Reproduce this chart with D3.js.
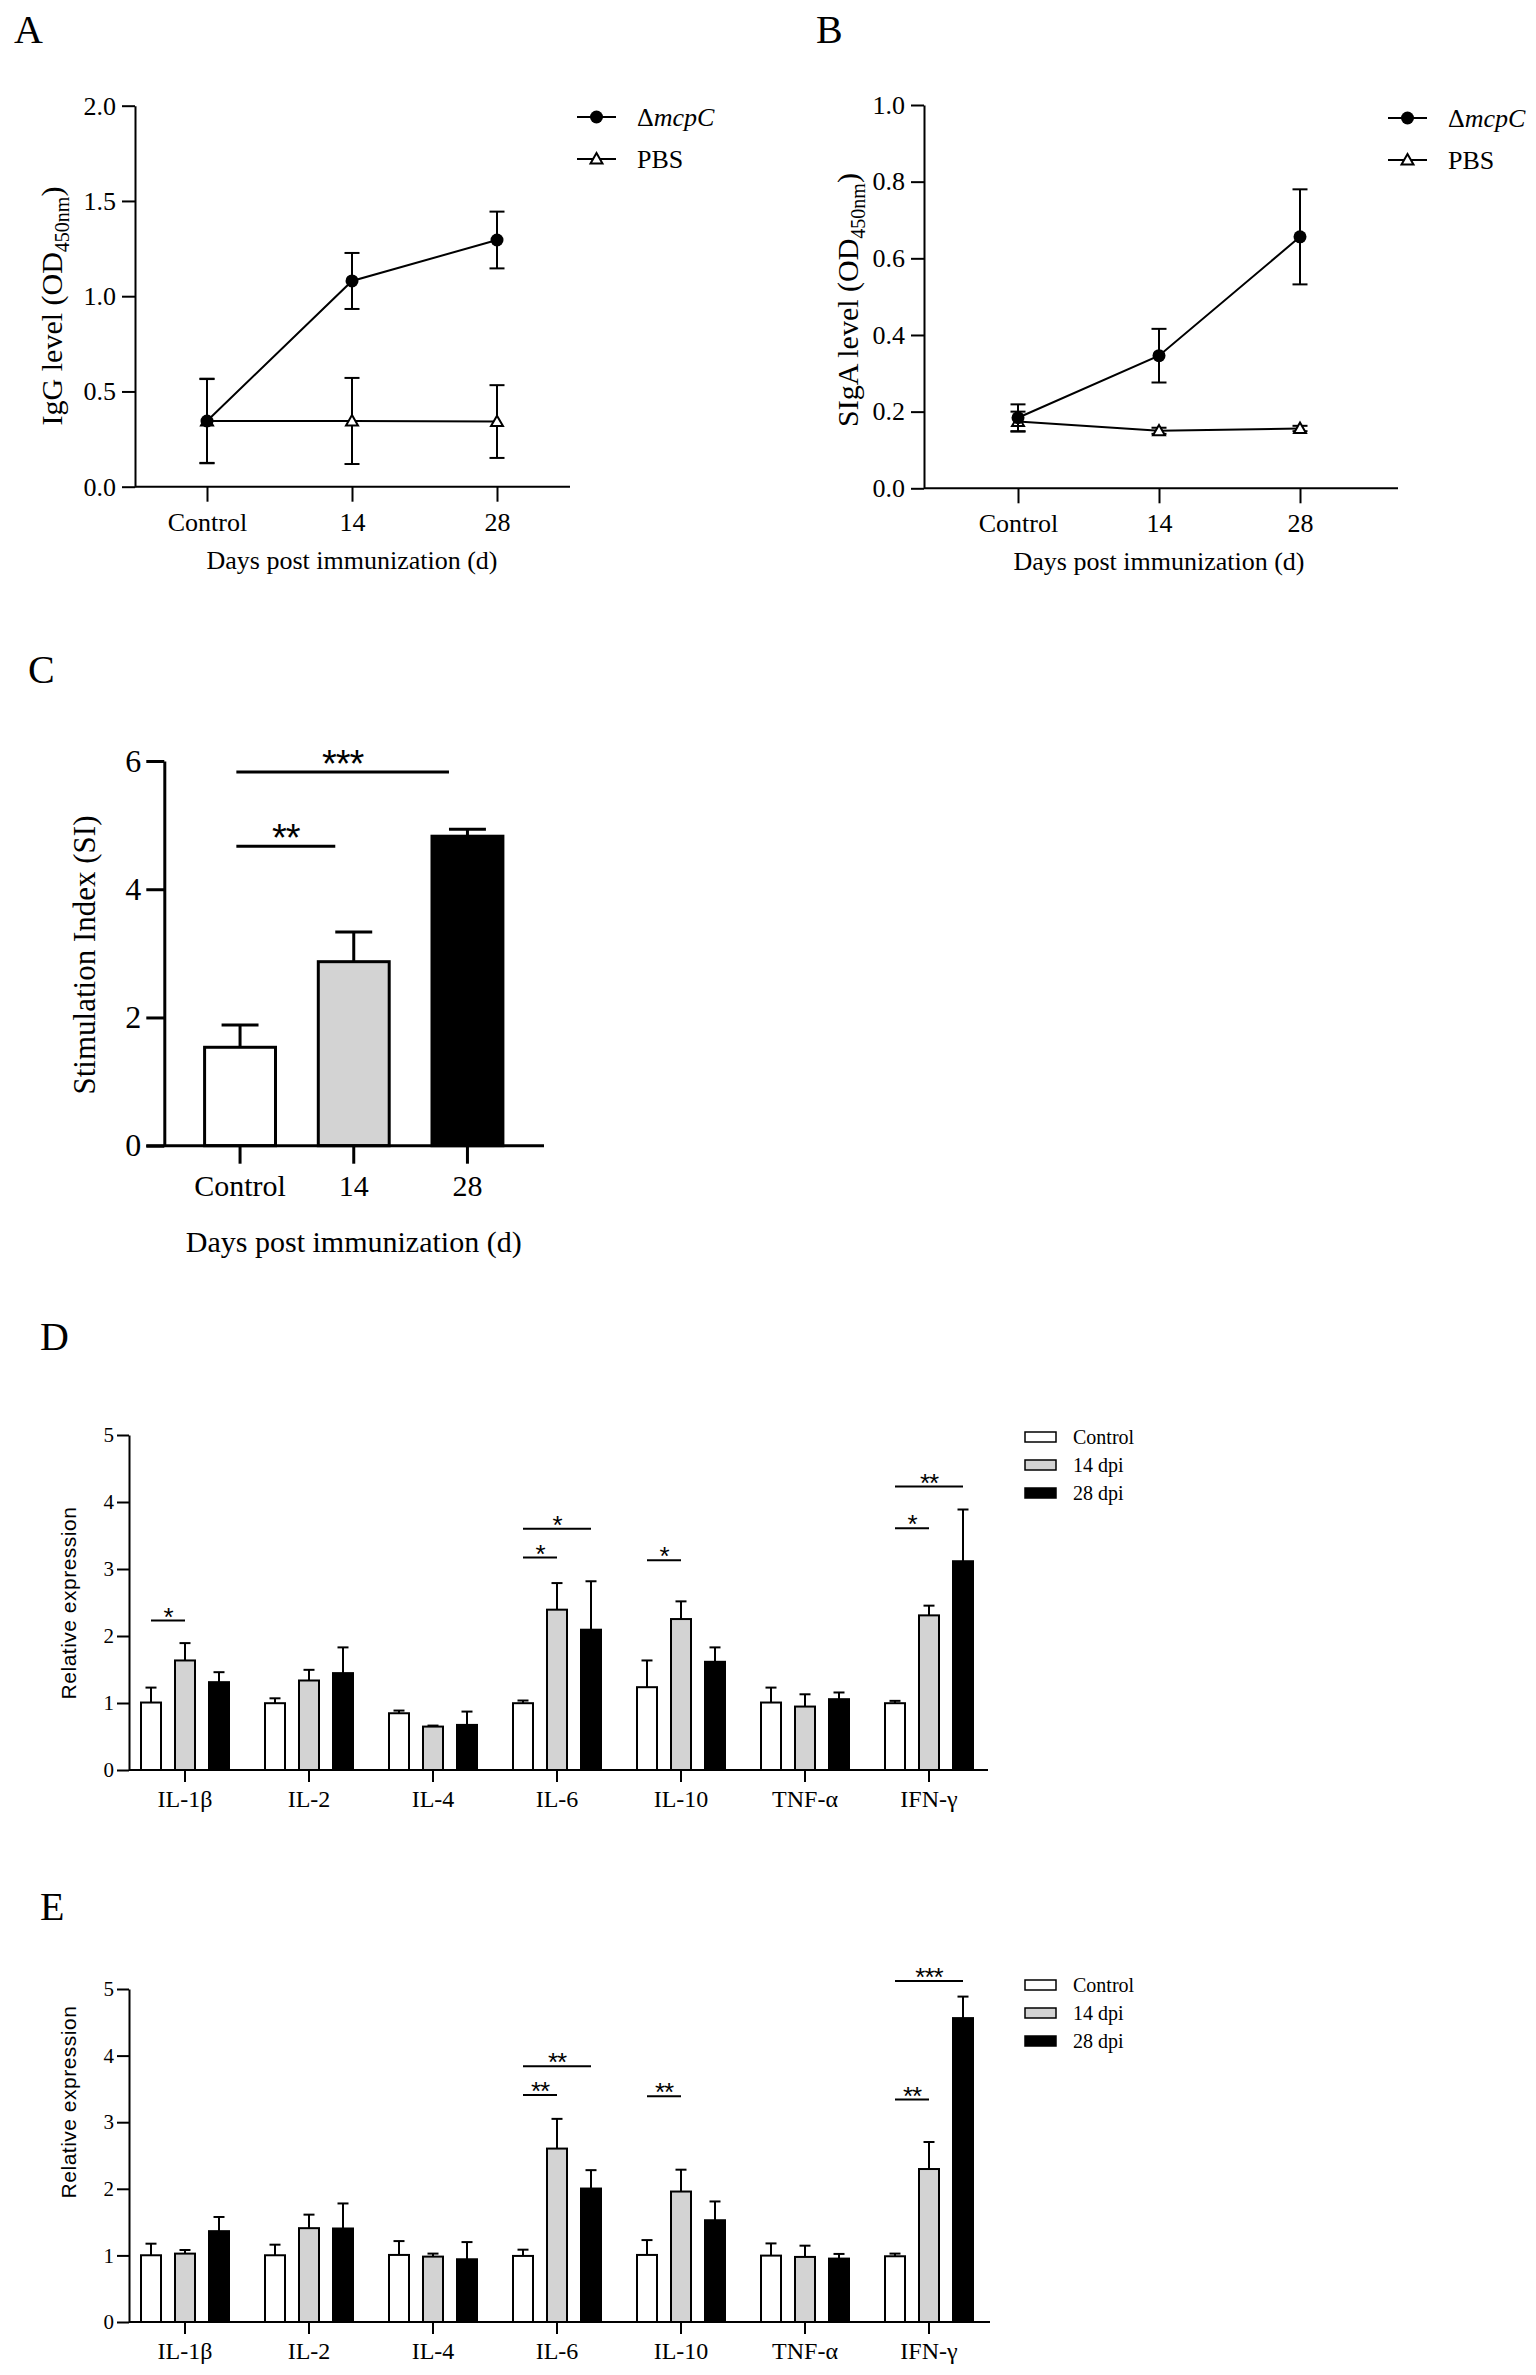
<!DOCTYPE html>
<html>
<head>
<meta charset="utf-8">
<script src="https://cdn.jsdelivr.net/npm/d3@7"></script>
<style>
  body { margin: 0; background: #fff; }
</style>
</head>
<body>
<svg id="fig" width="1536" height="2375"></svg>
<script>
// ---- data: panels A and B (ELISA) ----
const timePoints = ["Control", "14", "28"];

const iggMcpC = [0.345, 1.080, 1.295];
const iggMcpCErr = [0.222, 0.147, 0.149];
const iggPBS = [0.345, 0.345, 0.342];
const iggPBSErr = [0.220, 0.226, 0.191];

const sigaMcpC = [0.184, 0.346, 0.656];
const sigaMcpCErr = [0.035, 0.070, 0.124];
const sigaPBS = [0.174, 0.150, 0.156];
const sigaPBSErr = [0.026, 0.008, 0.007];

const iggTicks = [0, 0.5, 1.0, 1.5, 2.0];
const sigaTicks = [0, 0.2, 0.4, 0.6, 0.8, 1.0];

// ---- data: panel C (stimulation index) ----
const siValues = [1.535, 2.870, 4.827];
const siErr = [0.348, 0.464, 0.109];
const siTicks = [0, 2, 4, 6];
const siSig = [
  { from: "Control", to: "14", level: 4.67, label: "**" },
  { from: "Control", to: "28", level: 5.83, label: "***" }
];

// ---- data: panels D and E (cytokines) ----
const cytokines = ["IL-1β", "IL-2", "IL-4", "IL-6", "IL-10", "TNF-α", "IFN-γ"];
const dpiGroups = ["Control", "14 dpi", "28 dpi"];
const exprTicks = [0, 1, 2, 3, 4, 5];

const dControl = [1.007, 0.997, 0.847, 0.997, 1.236, 1.007, 0.997];
const d14 = [1.635, 1.336, 0.648, 2.393, 2.253, 0.947, 2.308];
const d28 = [1.311, 1.446, 0.673, 2.094, 1.615, 1.057, 3.116];
const dControlErr = [0.223, 0.073, 0.040, 0.040, 0.399, 0.223, 0.035];
const d14Err = [0.259, 0.159, 0.015, 0.397, 0.264, 0.183, 0.145];
const d28Err = [0.149, 0.384, 0.199, 0.723, 0.215, 0.100, 0.772];
const dSig = [
  { cyt: "IL-1β", from: "Control", to: "14 dpi", level: 2.23, label: "*" },
  { cyt: "IL-6", from: "Control", to: "14 dpi", level: 3.17, label: "*" },
  { cyt: "IL-6", from: "Control", to: "28 dpi", level: 3.60, label: "*" },
  { cyt: "IL-10", from: "Control", to: "14 dpi", level: 3.13, label: "*" },
  { cyt: "IFN-γ", from: "Control", to: "14 dpi", level: 3.61, label: "*" },
  { cyt: "IFN-γ", from: "Control", to: "28 dpi", level: 4.23, label: "**" }
];

const eControl = [1.002, 1.002, 1.007, 0.992, 1.007, 0.997, 0.987];
const e14 = [1.027, 1.409, 0.982, 2.604, 1.959, 0.977, 2.297];
const e28 = [1.364, 1.404, 0.942, 2.004, 1.528, 0.952, 4.563];
const eControlErr = [0.174, 0.159, 0.208, 0.094, 0.223, 0.183, 0.040];
const e14Err = [0.054, 0.203, 0.045, 0.446, 0.328, 0.169, 0.406];
const e28Err = [0.213, 0.376, 0.258, 0.276, 0.282, 0.070, 0.323];
const eSig = [
  { cyt: "IL-6", from: "Control", to: "14 dpi", level: 3.41, label: "**" },
  { cyt: "IL-6", from: "Control", to: "28 dpi", level: 3.84, label: "**" },
  { cyt: "IL-10", from: "Control", to: "14 dpi", level: 3.39, label: "**" },
  { cyt: "IFN-γ", from: "Control", to: "14 dpi", level: 3.34, label: "**" },
  { cyt: "IFN-γ", from: "Control", to: "28 dpi", level: 5.12, label: "***" }
];

const barFill = { "Control": "#ffffff", "14 dpi": "#d3d3d3", "28 dpi": "#000000" };
const siFill = ["#ffffff", "#d3d3d3", "#000000"];

const serif = "'Liberation Serif', 'Times New Roman', serif";
const sans = "'Liberation Sans', Arial, sans-serif";

const svg = d3.select("#fig");

// common axis styling
function styleAxis(sel, sw, fontSize, family) {
  sel.attr("font-size", null).attr("font-family", null);
  sel.selectAll("path, line").attr("stroke", "#000").attr("stroke-width", sw);
  sel.selectAll("text")
    .attr("font-family", family)
    .attr("font-size", fontSize)
    .attr("fill", "#000");
}

function panelLabel(txt, x, y) {
  svg.append("text")
    .attr("x", x).attr("y", y)
    .attr("font-family", serif)
    .attr("font-size", 40)
    .text(txt);
}

// ---- line chart (A, B) ----
function drawLinePanel(p) {
  const g = svg.append("g");
  const x = d3.scalePoint().domain(timePoints).range(p.xRange);
  const y = d3.scaleLinear().domain([0, p.yMax]).range([p.bottom, p.top]);

  const ya = g.append("g")
    .attr("transform", `translate(${p.left},0)`)
    .call(d3.axisLeft(y).tickValues(p.ticks).tickFormat(d3.format(".1f"))
      .tickSize(13).tickSizeOuter(0).tickPadding(6));
  styleAxis(ya, 2, 26, serif);

  const xa = g.append("g")
    .attr("transform", `translate(0,${p.bottom})`)
    .call(d3.axisBottom(x).tickSize(15).tickSizeOuter(0));
  xa.select(".domain").remove();
  styleAxis(xa, 2, 26, serif);
  xa.selectAll("text").attr("dy", null).attr("y", 44);

  g.append("line")
    .attr("x1", p.left).attr("x2", p.right)
    .attr("y1", p.bottom).attr("y2", p.bottom)
    .attr("stroke", "#000").attr("stroke-width", 2);

  // x title
  g.append("text")
    .attr("x", x("14")).attr("y", p.bottom + 82)
    .attr("text-anchor", "middle")
    .attr("font-family", serif).attr("font-size", 26)
    .text("Days post immunization (d)");

  // y title with subscript
  const t = g.append("text")
    .attr("transform", `translate(${p.titleX},${p.titleY}) rotate(-90)`)
    .attr("text-anchor", "middle")
    .attr("font-family", serif).attr("font-size", 30)
    .attr("dy", "0.33em");
  t.append("tspan").text(p.titleText + " (OD");
  t.append("tspan").attr("font-size", 20).attr("dy", 7).text("450nm");
  t.append("tspan").attr("dy", -7).text(")");

  const line = d3.line().x((d, i) => x(timePoints[i])).y(d => y(d));

  // series: PBS first, mutant on top
  p.series.forEach(s => {
    const pts = s.values.map((v, i) => ({ t: timePoints[i], v, e: s.err[i] }));
    pts.forEach(d => {
      const cx = x(d.t);
      g.append("line").attr("x1", cx).attr("x2", cx)
        .attr("y1", y(d.v - d.e)).attr("y2", y(d.v + d.e))
        .attr("stroke", "#000").attr("stroke-width", 2);
      [d.v - d.e, d.v + d.e].forEach(val => {
        g.append("line").attr("x1", cx - 7.5).attr("x2", cx + 7.5)
          .attr("y1", y(val)).attr("y2", y(val))
          .attr("stroke", "#000").attr("stroke-width", 2);
      });
    });
    g.append("path").datum(s.values).attr("d", line)
      .attr("fill", "none").attr("stroke", "#000").attr("stroke-width", 2);
    pts.forEach(d => drawMarker(g, s.marker, x(d.t), y(d.v)));
  });

  // legend
  p.legend.forEach((s, i) => {
    const ly = p.legendY + i * 42;
    g.append("line").attr("x1", p.legendX).attr("x2", p.legendX + 39)
      .attr("y1", ly).attr("y2", ly)
      .attr("stroke", "#000").attr("stroke-width", 2);
    drawMarker(g, s.marker, p.legendX + 19.5, ly);
    const lt = g.append("text").attr("x", p.legendX + 60).attr("y", ly + 9)
      .attr("font-family", serif).attr("font-size", 26);
    if (s.marker === "circle") {
      lt.append("tspan").text("Δ");
      lt.append("tspan").attr("font-style", "italic").text("mcpC");
    } else {
      lt.text(s.name);
    }
  });
}

function drawMarker(g, type, cx, cy) {
  if (type === "circle") {
    g.append("circle").attr("cx", cx).attr("cy", cy).attr("r", 6.5).attr("fill", "#000");
  } else {
    g.append("path")
      .attr("d", d3.symbol(d3.symbolTriangle, 62)())
      .attr("transform", `translate(${cx},${cy + 1})`)
      .attr("fill", "#fff").attr("stroke", "#000").attr("stroke-width", 2);
  }
}

panelLabel("A", 14, 43);
drawLinePanel({
  left: 135, right: 570, top: 105.7, bottom: 486.7, xRange: [207, 497],
  yMax: 2, ticks: iggTicks,
  titleX: 52, titleY: 306, titleText: "IgG level",
  series: [
    { values: iggPBS, err: iggPBSErr, marker: "triangle" },
    { values: iggMcpC, err: iggMcpCErr, marker: "circle" }
  ],
  legend: [{ name: "ΔmcpC", marker: "circle" }, { name: "PBS", marker: "triangle" }],
  legendX: 577, legendY: 117
});

panelLabel("B", 816, 43);
drawLinePanel({
  left: 924, right: 1398, top: 105, bottom: 488.3, xRange: [1018, 1300],
  yMax: 1, ticks: sigaTicks,
  titleX: 848, titleY: 300, titleText: "SIgA level",
  series: [
    { values: sigaPBS, err: sigaPBSErr, marker: "triangle" },
    { values: sigaMcpC, err: sigaMcpCErr, marker: "circle" }
  ],
  legend: [{ name: "ΔmcpC", marker: "circle" }, { name: "PBS", marker: "triangle" }],
  legendX: 1388, legendY: 118
});

// ---- panel C ----
(function drawC() {
  panelLabel("C", 28, 683);
  const left = 164.3, right = 544, top = 761, bottom = 1145.7;
  const g = svg.append("g");
  const x = d3.scaleBand().domain(timePoints).range([183.2, 524.3])
    .paddingInner(0.35).paddingOuter(0.175);
  const y = d3.scaleLinear().domain([0, 6]).range([bottom, top]);
  const bw = x.bandwidth();

  const rows = timePoints.map((t, i) => ({ t, v: siValues[i], e: siErr[i], fill: siFill[i] }));

  // error bars (upper only)
  rows.forEach(d => {
    const cx = x(d.t) + bw / 2;
    g.append("line").attr("x1", cx).attr("x2", cx)
      .attr("y1", y(d.v)).attr("y2", y(d.v + d.e))
      .attr("stroke", "#000").attr("stroke-width", 3);
    g.append("line").attr("x1", cx - bw / 4).attr("x2", cx + bw / 4)
      .attr("y1", y(d.v + d.e)).attr("y2", y(d.v + d.e))
      .attr("stroke", "#000").attr("stroke-width", 3);
  });

  g.selectAll("rect.si").data(rows).enter().append("rect")
    .attr("x", d => x(d.t) + 1.5)
    .attr("y", d => y(d.v))
    .attr("width", bw - 3)
    .attr("height", d => bottom - y(d.v))
    .attr("fill", d => d.fill)
    .attr("stroke", "#000").attr("stroke-width", 3);

  const ya = g.append("g").attr("transform", `translate(${left},0)`)
    .call(d3.axisLeft(y).tickValues(siTicks).tickFormat(d3.format("d"))
      .tickSize(18).tickSizeOuter(0).tickPadding(5));
  styleAxis(ya, 3, 32, serif);

  const xa = g.append("g").attr("transform", `translate(0,${bottom})`)
    .call(d3.axisBottom(x).tickSize(18).tickSizeOuter(0));
  xa.select(".domain").remove();
  styleAxis(xa, 3, 30, serif);
  xa.selectAll("text").attr("dy", null).attr("y", 50);

  g.append("line").attr("x1", left - 18).attr("x2", right)
    .attr("y1", bottom).attr("y2", bottom)
    .attr("stroke", "#000").attr("stroke-width", 3);

  g.append("text").attr("x", x("14") + bw / 2).attr("y", 1252)
    .attr("text-anchor", "middle")
    .attr("font-family", serif).attr("font-size", 30)
    .text("Days post immunization (d)");

  g.append("text")
    .attr("transform", `translate(85,955) rotate(-90)`)
    .attr("text-anchor", "middle").attr("dy", "0.33em")
    .attr("font-family", serif).attr("font-size", 31)
    .text("Stimulation Index (SI)");

  siSig.forEach(s => {
    const x1 = x(s.from) + bw / 2 - 0.05 * bw;
    const x2 = x(s.to) + bw / 2 - 0.25 * bw;
    g.append("line").attr("x1", x1).attr("x2", x2)
      .attr("y1", y(s.level)).attr("y2", y(s.level))
      .attr("stroke", "#000").attr("stroke-width", 3);
    g.append("text").attr("x", (x1 + x2) / 2).attr("y", y(s.level) + 5)
      .attr("text-anchor", "middle")
      .attr("font-family", sans).attr("font-size", 38)
      .attr("letter-spacing", -1)
      .text(s.label);
  });
})();

// ---- grouped bar panels (D, E) ----
function drawGroupedPanel(p) {
  const g = svg.append("g");
  const x0 = d3.scaleBand().domain(cytokines).range([123, 991]);
  const x1 = d3.scaleBand().domain(dpiGroups).range([-51, 51])
    .paddingInner(0.353).paddingOuter(0.1765);
  const y = d3.scaleLinear().domain([0, 5]).range([p.bottom, p.top]);
  const center = c => x0(c) + x0.bandwidth() / 2;

  const rows = [];
  cytokines.forEach((c, i) => {
    dpiGroups.forEach((grp, j) => {
      rows.push({ c, grp, v: p.means[j][i], e: p.errs[j][i] });
    });
  });

  rows.forEach(d => {
    const cx = center(d.c) + x1(d.grp) + x1.bandwidth() / 2;
    g.append("line").attr("x1", cx).attr("x2", cx)
      .attr("y1", y(d.v)).attr("y2", y(d.v + d.e))
      .attr("stroke", "#000").attr("stroke-width", 2);
    g.append("line").attr("x1", cx - 5.5).attr("x2", cx + 5.5)
      .attr("y1", y(d.v + d.e)).attr("y2", y(d.v + d.e))
      .attr("stroke", "#000").attr("stroke-width", 2);
  });

  g.selectAll("rect.bar").data(rows).enter().append("rect")
    .attr("x", d => center(d.c) + x1(d.grp) + 1)
    .attr("y", d => y(d.v))
    .attr("width", x1.bandwidth() - 2)
    .attr("height", d => p.bottom - y(d.v))
    .attr("fill", d => barFill[d.grp])
    .attr("stroke", "#000").attr("stroke-width", 2);

  const ya = g.append("g").attr("transform", `translate(${p.left},0)`)
    .call(d3.axisLeft(y).tickValues(exprTicks).tickFormat(d3.format("d"))
      .tickSize(12).tickSizeOuter(0).tickPadding(3));
  styleAxis(ya, 2, 21, serif);

  const xa = g.append("g").attr("transform", `translate(0,${p.bottom})`)
    .call(d3.axisBottom(x0).tickSize(12).tickSizeOuter(0));
  xa.select(".domain").remove();
  styleAxis(xa, 2, 24, serif);
  xa.selectAll("text").attr("dy", null).attr("y", 37);

  g.append("line").attr("x1", p.left).attr("x2", p.right)
    .attr("y1", p.bottom).attr("y2", p.bottom)
    .attr("stroke", "#000").attr("stroke-width", 2);

  g.append("text")
    .attr("transform", `translate(69,${p.titleY}) rotate(-90)`)
    .attr("text-anchor", "middle").attr("dy", "0.35em")
    .attr("font-family", sans).attr("font-size", 21)
    .attr("letter-spacing", 0.5)
    .text("Relative expression");

  p.sig.forEach(s => {
    const xa1 = center(s.cyt) + x1(s.from) + x1.bandwidth() / 2;
    const xa2 = center(s.cyt) + x1(s.to) + x1.bandwidth() / 2;
    g.append("line").attr("x1", xa1).attr("x2", xa2)
      .attr("y1", y(s.level)).attr("y2", y(s.level))
      .attr("stroke", "#000").attr("stroke-width", 2);
    g.append("text").attr("x", (xa1 + xa2) / 2).attr("y", y(s.level) + 5)
      .attr("text-anchor", "middle")
      .attr("font-family", sans).attr("font-size", 26)
      .attr("letter-spacing", -1)
      .text(s.label);
  });

  // legend
  dpiGroups.forEach((grp, i) => {
    const ly = p.legendY + i * 28;
    g.append("rect").attr("x", 1025).attr("y", ly - 5).attr("width", 31).attr("height", 10)
      .attr("fill", barFill[grp]).attr("stroke", "#000").attr("stroke-width", 1.5);
    g.append("text").attr("x", 1073).attr("y", ly + 7)
      .attr("font-family", serif).attr("font-size", 20)
      .text(grp);
  });
}

panelLabel("D", 40, 1350);
drawGroupedPanel({
  left: 129, right: 988, top: 1435, bottom: 1770,
  means: [dControl, d14, d28], errs: [dControlErr, d14Err, d28Err],
  sig: dSig, titleY: 1603, legendY: 1437
});

panelLabel("E", 40, 1920);
drawGroupedPanel({
  left: 129, right: 990, top: 1989, bottom: 2322,
  means: [eControl, e14, e28], errs: [eControlErr, e14Err, e28Err],
  sig: eSig, titleY: 2102, legendY: 1985
});
</script>
</body>
</html>
